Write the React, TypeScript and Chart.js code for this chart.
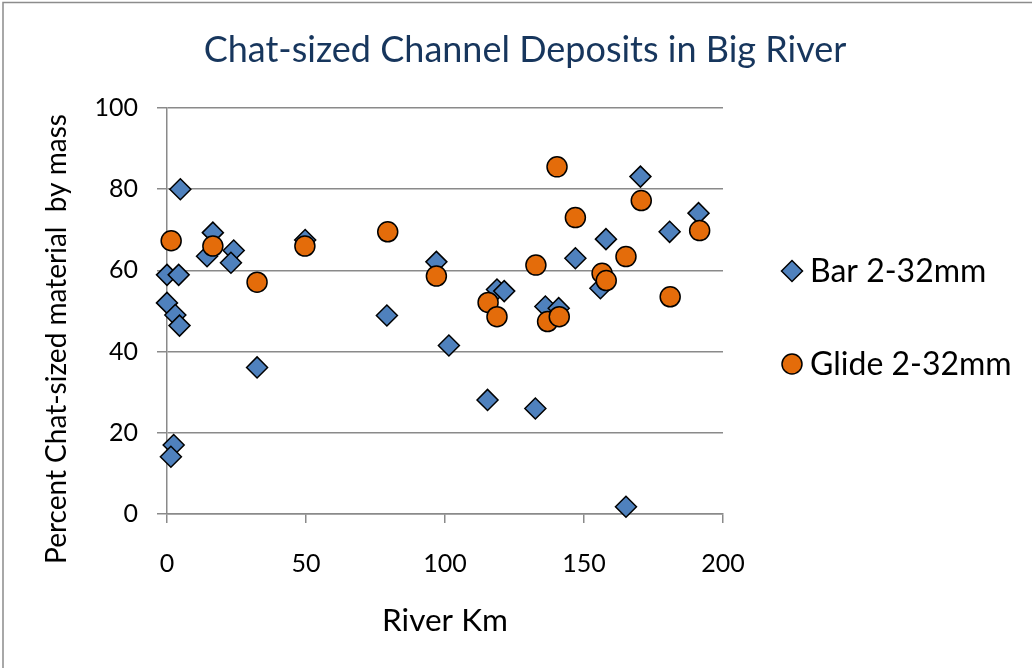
import React, { useEffect, useRef } from "react";
import { Chart, registerables } from "chart.js";

Chart.register(...registerables);

const chartTitle = "Chat-sized Channel Deposits in Big River";
const xAxisTitle = "River Km";
const yAxisTitle = "Percent Chat-sized material  by mass";
const seriesNames = ["Bar 2-32mm", "Glide 2-32mm"];

const xTickValues = [0, 50, 100, 150, 200];
const yTickValues = [0, 20, 40, 60, 80, 100];

const barKm = [0, 4.2, 0, 3, 4.5, 2.4, 1.4, 4.8, 16.5, 14.4, 24, 23, 32.4, 49.7, 96.9, 118.7, 121.3, 79.1, 101.4, 115.3, 132.5, 136.1, 140.9, 170.3, 191.2, 180.8, 157.9, 146.9, 155.9, 165.1];
const barPct = [58.9, 58.9, 52, 49, 46.4, 17, 14.1, 80, 69.3, 63.5, 64.9, 61.9, 36.1, 67.5, 62.1, 55.3, 54.9, 48.9, 41.5, 28.1, 26, 51.1, 50.7, 83.1, 74.1, 69.5, 67.7, 63, 55.6, 1.8];

const glideKm = [1.5, 16.5, 32.4, 49.6, 79.4, 96.9, 132.7, 115.5, 118.7, 136.9, 140.3, 170.6, 146.9, 191.6, 165.1, 156.5, 158, 181, 141.1];
const gliderPct = [67.3, 66, 57.1, 66, 69.5, 58.6, 61.3, 52.1, 48.6, 47.4, 85.5, 77.2, 73, 69.8, 63.4, 59.3, 57.5, 53.5, 48.6];

const FONT = "Lato, 'Open Sans', sans-serif";
const BLUE = "#4F81BD";
const ORANGE = "#E46C0A";
const GRID = "#8a8a8a";

const decorPlugin = {
  id: "decor",
  beforeDraw(chart: any) {
    const ctx = chart.ctx;
    ctx.save();
    ctx.fillStyle = "#ffffff";
    ctx.fillRect(0, 0, chart.width, chart.height);
    ctx.strokeStyle = "#8c8c8c";
    ctx.lineWidth = 1.5;
    ctx.strokeRect(3, 2.5, 1200, 900);
    ctx.restore();
  },
  afterDraw(chart: any) {
    const ctx = chart.ctx;
    // chart title
    ctx.save();
    ctx.fillStyle = "#17365D";
    ctx.font = `36px ${FONT}`;
    ctx.textAlign = "center";
    ctx.textBaseline = "middle";
    ctx.fillText(chartTitle, 525, 50);
    ctx.restore();

    // y axis title
    ctx.save();
    ctx.translate(57, 339);
    ctx.rotate(-Math.PI / 2);
    ctx.fillStyle = "#000000";
    ctx.font = `28px ${FONT}`;
    ctx.textAlign = "center";
    ctx.textBaseline = "middle";
    ctx.fillText(yAxisTitle, 0, 0);
    ctx.restore();

    // legend
    ctx.save();
    ctx.lineWidth = 1.5;
    ctx.strokeStyle = "#000000";
    const dx = 792, dy = 271, r = 10.5;
    ctx.beginPath();
    ctx.moveTo(dx - r, dy);
    ctx.lineTo(dx, dy - r);
    ctx.lineTo(dx + r, dy);
    ctx.lineTo(dx, dy + r);
    ctx.closePath();
    ctx.fillStyle = BLUE;
    ctx.fill();
    ctx.stroke();
    ctx.beginPath();
    ctx.arc(792, 364, 10, 0, Math.PI * 2);
    ctx.fillStyle = ORANGE;
    ctx.fill();
    ctx.stroke();
    ctx.fillStyle = "#000000";
    ctx.font = `32px ${FONT}`;
    ctx.textAlign = "left";
    ctx.textBaseline = "middle";
    ctx.fillText(seriesNames[0], 810, 272);
    ctx.fillText(seriesNames[1], 810, 365);
    ctx.restore();
  },
};

export default function App() {
  const canvasRef = useRef<HTMLCanvasElement | null>(null);

  useEffect(() => {
    if (!canvasRef.current) return;
    const chart = new Chart(canvasRef.current, {
      type: "scatter",
      data: {
        datasets: [
          {
            label: seriesNames[0],
            data: barKm.map((x, i) => ({ x, y: barPct[i] })),
            pointStyle: "rectRot",
            pointRadius: 10.5,
            pointHoverRadius: 10.5,
            backgroundColor: BLUE,
            borderColor: "#000000",
            pointBorderWidth: 1.5,
            borderWidth: 1.5,
            clip: false,
            order: 2,
          },
          {
            label: seriesNames[1],
            data: glideKm.map((x, i) => ({ x, y: gliderPct[i] })),
            pointStyle: "circle",
            pointRadius: 10,
            pointHoverRadius: 10,
            backgroundColor: ORANGE,
            borderColor: "#000000",
            pointBorderWidth: 1.5,
            borderWidth: 1.5,
            clip: false,
            order: 1,
          },
        ],
      },
      options: {
        animation: false,
        responsive: false,
        maintainAspectRatio: false,
        layout: { padding: { left: 0, right: 309, top: 108, bottom: 0 } },
        plugins: {
          legend: { display: false },
          tooltip: { enabled: false },
          title: { display: false },
        },
        scales: {
          x: {
            type: "linear",
            min: 0,
            max: 200,
            afterBuildTicks: (scale: any) => {
              scale.ticks = xTickValues.map((v) => ({ value: v }));
            },
            afterFit: (scale: any) => {
              scale.height = 154;
            },
            ticks: {
              color: "#000000",
              font: { family: FONT, size: 25 },
              padding: 26,
              maxRotation: 0,
            },
            grid: {
              drawOnChartArea: false,
              drawTicks: true,
              tickLength: 9,
              color: GRID,
              lineWidth: 1.5,
            },
            border: { display: true, color: GRID, width: 1.5 },
            title: {
              display: true,
              text: xAxisTitle,
              color: "#000000",
              font: { family: FONT, size: 31.5 },
              padding: { top: 0, bottom: 28 },
            },
          },
          y: {
            type: "linear",
            min: 0,
            max: 100,
            afterBuildTicks: (scale: any) => {
              scale.ticks = yTickValues.map((v) => ({ value: v }));
            },
            afterFit: (scale: any) => {
              scale.width = 167;
            },
            ticks: {
              color: "#000000",
              font: { family: FONT, size: 25 },
              padding: 19,
            },
            grid: {
              drawOnChartArea: true,
              drawTicks: true,
              tickLength: 10,
              color: GRID,
              lineWidth: 1.5,
            },
            border: { display: true, color: GRID, width: 1.5 },
          },
        },
      },
      plugins: [decorPlugin],
    });
    return () => chart.destroy();
  }, []);

  return (
    <div style={{ position: "absolute", left: 0, top: 0, width: 1032, height: 668, background: "#fff" }}>
      <canvas ref={canvasRef} width={1032} height={668} style={{ width: 1032, height: 668, display: "block" }} />
    </div>
  );
}
